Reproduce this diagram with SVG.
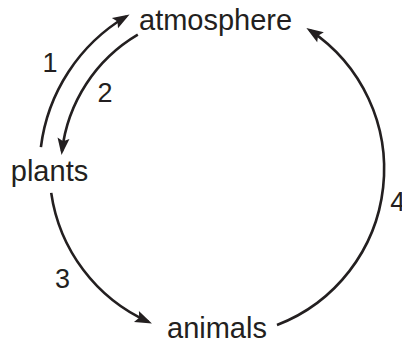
<svg xmlns="http://www.w3.org/2000/svg" width="402" height="347" viewBox="0 0 402 347">
<style>
.lbl{font-family:"Liberation Sans",Arial,sans-serif;font-size:29px;fill:#231f20}
.num{font-family:"Liberation Sans",Arial,sans-serif;font-size:27px;fill:#231f20}
.conn{fill:none;stroke:#231f20;stroke-width:2.6}
</style>
<defs>
<marker id="ah" markerUnits="userSpaceOnUse" viewBox="-14 -7 19 14" refX="0" refY="0" markerWidth="19" markerHeight="14" orient="auto" overflow="visible">
<path d="M4,0 L-13,-6 L-10,0 L-13,6 Z" fill="#231f20"/>
</marker>
</defs>
<rect width="402" height="347" fill="#ffffff"/>
<g id="connectors">
<path id="c1" class="conn" d="M40.9,147.1 A177.5,177.5 0 0 1 126.1,16.5" marker-end="url(#ah)"/>
<path id="c2" class="conn" d="M137.8,34.6 A156,156 0 0 0 62,151.1" marker-end="url(#ah)"/>
<path id="c3" class="conn" d="M51.2,192.9 A167.5,167.5 0 0 0 148.3,321.8" marker-end="url(#ah)"/>
<path id="c4" class="conn" d="M277,325 A167,167 0 0 0 309.7,30.1" marker-end="url(#ah)"/>
<text class="num" x="50" y="72" text-anchor="middle">1</text>
<text class="num" x="105" y="101.5" text-anchor="middle">2</text>
<text class="num" x="62.5" y="288" text-anchor="middle">3</text>
<text class="num" x="390.3" y="211">4</text>
</g>
<g id="atmosphere"><text class="lbl" x="139" y="30">atmosphere</text></g>
<g id="plants"><text class="lbl" x="10.8" y="181">plants</text></g>
<g id="animals"><text class="lbl" x="167" y="338">animals</text></g>
</svg>
